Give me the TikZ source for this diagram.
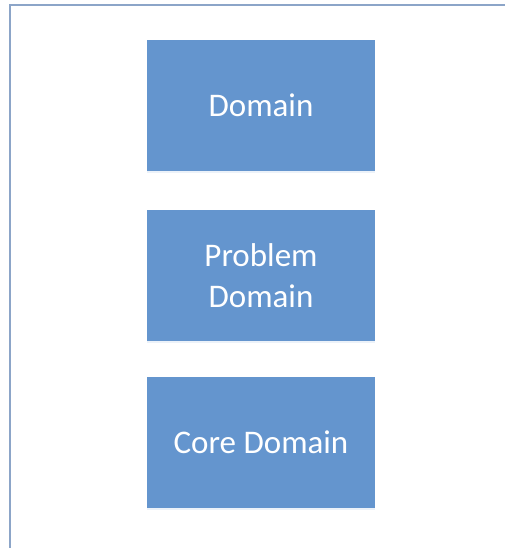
\documentclass[tikz,border=0pt]{standalone}
\usepackage{fontspec}
\setmainfont{Carlito}
\usetikzlibrary{shadows}
\definecolor{boxblue}{RGB}{100,149,206}
\definecolor{framecol}{RGB}{140,165,200}
\tikzset{
  domainbox/.style={fill=boxblue, draw=none, minimum width=228pt, minimum height=131pt,
    text=white, align=center, font=\fontsize{33}{41}\selectfont,
    drop shadow={shadow xshift=0pt, shadow yshift=-2pt, opacity=0.12, fill=boxblue}},
}
\begin{document}
\begin{tikzpicture}[x=1pt,y=-1pt]
  \useasboundingbox (0,0) rectangle (505,548);
  % outer frame (clipped at right and bottom)
  \begin{scope}
    \clip (0,0) rectangle (505,548);
    \draw[framecol, line width=2pt] (10,5) rectangle (520,560);
  \end{scope}
  \node[domainbox] (domain) at (261,105.5) {Domain};
  \node[domainbox] (problem) at (261,275.5) {Problem\\Domain};
  \node[domainbox] (core) at (261,442) {Core Domain};
\end{tikzpicture}
\end{document}
